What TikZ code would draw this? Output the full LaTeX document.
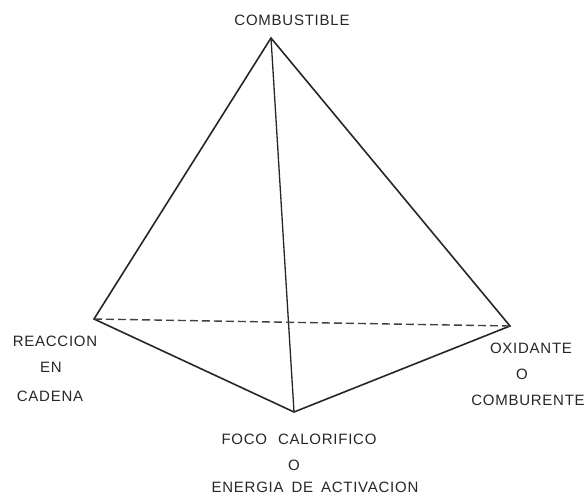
\documentclass[tikz,border=0pt]{standalone}
\usepackage{fontspec}
\setmainfont{Liberation Sans}[LetterSpace=5]
\begin{document}
\begin{tikzpicture}[x=1pt,y=-1pt,
  edge/.style={line width=1.6pt,black!85},
  hidden/.style={line width=1.4pt,black!75,dash pattern=on 8pt off 4pt},
  lbl/.style={font=\fontsize{15}{17}\selectfont,text=black!85,inner sep=0pt,anchor=center}]
\useasboundingbox (0,0) rectangle (587,496);
\coordinate (top) at (271,38);
\coordinate (left) at (94,319);
\coordinate (right) at (510,326);
\coordinate (bot) at (294,412);
\draw[edge,line join=miter] (left) -- (top) -- (right) -- (bot) -- cycle;
\draw[edge,line width=1.3pt] (top) -- (bot);
\draw[hidden] (left) -- (right);
\node[lbl] (comb) at (292,20) {COMBUSTIBLE};
\node[lbl] (reac) at (55,341) {REACCION};
\node[lbl] (en) at (51,367) {EN};
\node[lbl] (cad) at (50,396) {CADENA};
\node[lbl] (oxi) at (531,348) {OXIDANTE};
\node[lbl] (o1) at (522,374) {O};
\node[lbl] (combu) at (528,400) {COMBURENTE};
\node[lbl] (foco) at (299,439) {FOCO\hspace{6pt} CALORIFICO};
\node[lbl] (o2) at (294,465) {O};
\node[lbl] (ener) at (315,487) {ENERGIA\hspace{3pt} DE\hspace{3pt} ACTIVACION};
\end{tikzpicture}
\end{document}
